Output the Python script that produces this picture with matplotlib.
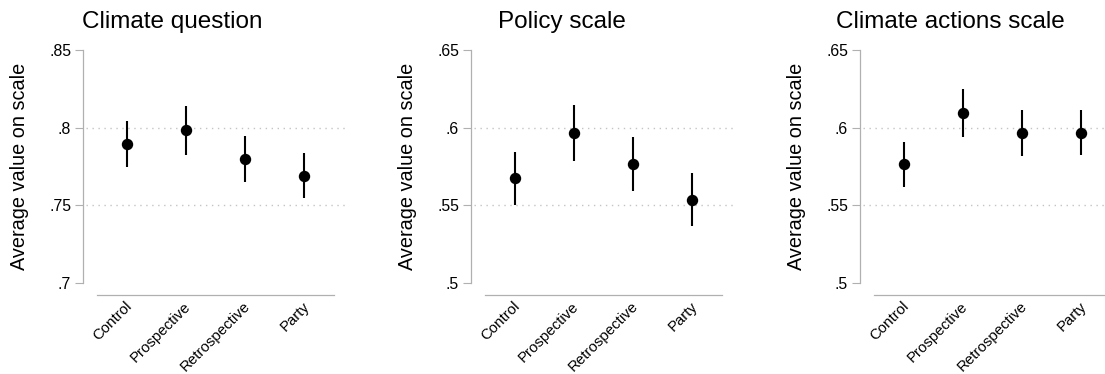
import matplotlib
matplotlib.use("Agg")
import matplotlib.pyplot as plt
import matplotlib.transforms as mtransforms
from matplotlib.ticker import FuncFormatter

plt.rcParams['font.family'] = ['Liberation Sans', 'DejaVu Sans']

categories = ["Control", "Prospective", "Retrospective", "Party"]

titles = ["Climate question", "Policy scale", "Climate actions scale"]

climate_q_mean = [0.7894, 0.7984, 0.7797, 0.7692]
climate_q_lo = [0.7748, 0.7825, 0.7649, 0.7544]
climate_q_hi = [0.8044, 0.8139, 0.7948, 0.7840]

policy_mean = [0.5673, 0.5967, 0.5765, 0.5533]
policy_lo = [0.5503, 0.5784, 0.5593, 0.5365]
policy_hi = [0.5845, 0.6148, 0.5939, 0.5705]

actions_mean = [0.5763, 0.6096, 0.5963, 0.5967]
actions_lo = [0.5615, 0.5939, 0.5817, 0.5821]
actions_hi = [0.5909, 0.6251, 0.6111, 0.6113]

yticks_1 = [0.70, 0.75, 0.80, 0.85]
yticks_2 = [0.50, 0.55, 0.60, 0.65]
yticks_3 = [0.50, 0.55, 0.60, 0.65]
grid_1 = [0.75, 0.80]
grid_2 = [0.55, 0.60]
grid_3 = [0.55, 0.60]

panels = [
    (climate_q_mean, climate_q_lo, climate_q_hi, yticks_1, grid_1),
    (policy_mean, policy_lo, policy_hi, yticks_2, grid_2),
    (actions_mean, actions_lo, actions_hi, yticks_3, grid_3),
]

W, H = 1105, 374
fig = plt.figure(figsize=(W / 100, H / 100), dpi=100)
fig.patch.set_facecolor('white')

lefts_px = [97, 485, 874]
width_px = 237
top_px, bottom_px = 50, 283
title_centers_px = [172.5, 561.5, 950.5]
spine_gray = '#b0b0b0'


def fmt(v, pos):
    s = ('%.2f' % v).rstrip('0').rstrip('.')
    if s.startswith('0'):
        s = s[1:]
    return s


for i, (mean, lo, hi, yt, gl) in enumerate(panels):
    ax = fig.add_axes([lefts_px[i] / W, (H - bottom_px) / H,
                       width_px / W, (bottom_px - top_px) / H])
    for sp in ['top', 'right']:
        ax.spines[sp].set_visible(False)
    ax.spines['left'].set_position(('outward', 10.2))
    ax.spines['bottom'].set_position(('outward', 8.8))
    ax.spines['left'].set_color(spine_gray)
    ax.spines['bottom'].set_color(spine_gray)
    ax.spines['left'].set_linewidth(0.9)
    ax.spines['bottom'].set_linewidth(0.9)

    x = list(range(1, len(categories) + 1))
    ax.vlines(x, lo, hi, colors='black', linewidth=1.5, zorder=3)
    ax.plot(x, mean, 'o', color='black', markersize=7.2, zorder=4)
    ax.set_xlim(0.5, 4.5)
    ax.set_ylim(yt[0], yt[-1])
    ax.set_yticks(yt)
    ax.yaxis.set_major_formatter(FuncFormatter(fmt))
    ax.set_xticks(x)
    ax.set_xticklabels(categories)
    ax.tick_params(axis='x', length=0, pad=3, labelsize=10.8,
                   labelrotation=45)
    ax.tick_params(axis='y', length=6, width=0.8, color=spine_gray,
                   labelsize=11.4, pad=2.5)
    offset = mtransforms.ScaledTranslation(-2 / 100, 0, fig.dpi_scale_trans)
    for lab in ax.get_xticklabels():
        lab.set_ha('right')
        lab.set_va('top')
        lab.set_rotation_mode('anchor')
        lab.set_transform(lab.get_transform() + offset)
    for g in gl:
        ax.axhline(g, xmin=-0.046, xmax=1.046, color='#c4c4c4',
                   linewidth=1.0, linestyle=(0, (1, 3.3)), clip_on=False,
                   zorder=1)
    ax.set_ylabel('Average value on scale', fontsize=14.3)
    ax.yaxis.set_label_coords(-0.289, 0.5)
    ax.patch.set_alpha(0)
    fig.text(title_centers_px[i] / W, (H - 28) / H, titles[i],
             fontsize=17.5, ha='center', va='baseline')

fig.savefig('out.png', dpi=100, facecolor='white')
